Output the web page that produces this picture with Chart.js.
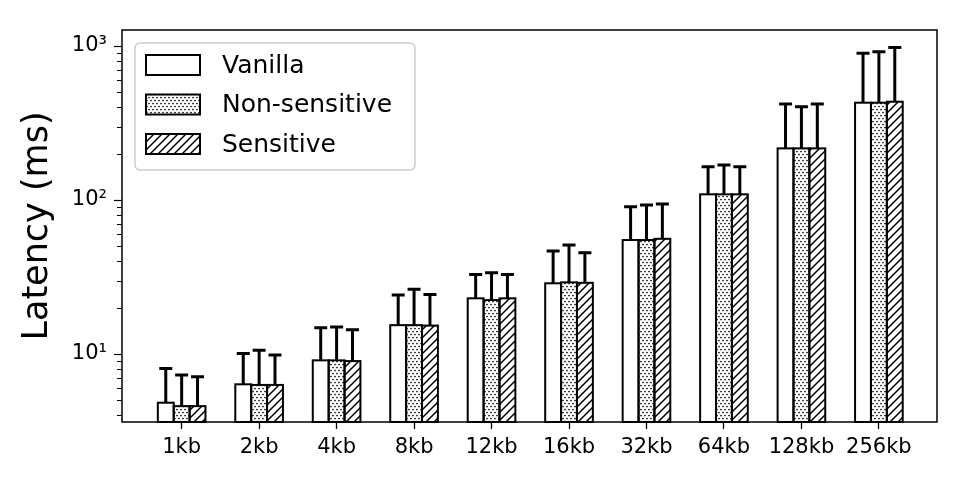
<!DOCTYPE html>
<html>
<head>
<meta charset="utf-8">
<script src="https://cdn.jsdelivr.net/npm/chart.js@4/dist/chart.umd.min.js"></script>
<style>
  body { margin: 0; background: #fff; }
  #wrap { width: 969px; height: 485px; }
</style>
</head>
<body>
<div id="wrap"><canvas id="latencyChart" width="969" height="485"></canvas></div>
<script>
// message sizes
const categories = ['1kb', '2kb', '4kb', '8kb', '12kb', '16kb', '32kb', '64kb', '128kb', '256kb'];

// mean latency (ms)
const vanilla = [4.83, 6.36, 9.1, 15.4, 23.0, 28.8, 55.0, 108.9, 216.5, 428.6];
const nonSensitive = [4.59, 6.3, 9.1, 15.4, 22.4, 29.2, 55.0, 108.9, 216.5, 428.6];
const sensitive = [4.59, 6.3, 9.0, 15.3, 23.0, 29.0, 56.0, 108.9, 216.5, 435];

// top of the error bar (ms)
const vanillaErr = [8.07, 10.1, 14.8, 24.2, 32.9, 46.7, 90.5, 164.5, 420, 897];
const nonSensitiveErr = [7.31, 10.6, 15.0, 26.3, 33.7, 51.1, 92.8, 168.6, 404, 919];
const sensitiveErr = [7.13, 9.85, 14.4, 24.4, 32.9, 45.5, 94.2, 164.5, 420, 979];

const majorTicks = [10, 100, 1000];
const minorTicks = [4, 5, 6, 7, 8, 9, 20, 30, 40, 50, 60, 70, 80, 90, 200, 300, 400, 500, 600, 700, 800, 900];
const superscripts = { 1: '\u00B9', 2: '\u00B2', 3: '\u00B3' };

function dotPattern() {
    const c = document.createElement('canvas');
    c.width = 4; c.height = 6;
    const g = c.getContext('2d');
    g.fillStyle = '#fff';
    g.fillRect(0, 0, 4, 6);
    g.fillStyle = '#000';
    [[1, 1.5], [3, 4.5]].forEach(([x, y]) => {
        g.beginPath();
        g.arc(x, y, 0.85, 0, Math.PI * 2);
        g.fill();
    });
    return g.createPattern(c, 'repeat');
}

function hatchPattern() {
    const s = 8;
    const c = document.createElement('canvas');
    c.width = s; c.height = s;
    const g = c.getContext('2d');
    g.fillStyle = '#fff';
    g.fillRect(0, 0, s, s);
    g.strokeStyle = '#000';
    g.lineWidth = 1.5;
    g.beginPath();
    g.moveTo(0, s); g.lineTo(s, 0);
    g.moveTo(-s / 2, s / 2); g.lineTo(s / 2, -s / 2);
    g.moveTo(s / 2, s * 1.5); g.lineTo(s * 1.5, s / 2);
    g.stroke();
    return g.createPattern(c, 'repeat');
}

const toPoints = values => values.map((v, i) => ({ x: i, y: v }));

// bar outlines centred on the edges (like matplotlib), then upward error bars
const barEdgesAndErrors = {
    id: 'barEdgesAndErrors',
    afterDatasetsDraw(chart) {
        const { ctx, chartArea: a } = chart;
        const yScale = chart.scales.y;
        ctx.save();
        ctx.strokeStyle = '#000';
        ctx.lineWidth = 2;
        chart.data.datasets.forEach((ds, di) => {
            chart.getDatasetMeta(di).data.forEach(bar => {
                const base = Math.min(bar.base, a.bottom);
                ctx.strokeRect(bar.x - bar.width / 2, bar.y, bar.width, base - bar.y);
            });
        });
        ctx.lineWidth = 3;
        chart.data.datasets.forEach((ds, di) => {
            chart.getDatasetMeta(di).data.forEach((bar, i) => {
                const top = yScale.getPixelForValue(ds.errTop[i]);
                ctx.beginPath();
                ctx.moveTo(bar.x, bar.y);
                ctx.lineTo(bar.x, top);
                ctx.moveTo(bar.x - 6.5, top);
                ctx.lineTo(bar.x + 6.5, top);
                ctx.stroke();
            });
        });
        ctx.restore();
    }
};

// axes frame and minor y tick marks
const frameAndMinor = {
    id: 'frameAndMinor',
    afterDraw(chart) {
        const { ctx, chartArea: a } = chart;
        const yScale = chart.scales.y;
        ctx.save();
        ctx.fillStyle = '#000';
        minorTicks.forEach(v => {
            const y = Math.round(yScale.getPixelForValue(v));
            ctx.fillRect(a.left - 5, y, 5, 1);
        });
        ctx.strokeStyle = '#000';
        ctx.lineWidth = 1.5;
        ctx.strokeRect(a.left, a.top, a.right - a.left, a.bottom - a.top);
        ctx.restore();
    }
};

const boxLegend = {
    id: 'boxLegend',
    afterDraw(chart) {
        const { ctx, chartArea: a } = chart;
        const x0 = a.left + 13, y0 = a.top + 13, w = 280, h = 127;
        ctx.save();
        ctx.fillStyle = 'rgba(255,255,255,0.8)';
        ctx.strokeStyle = '#cccccc';
        ctx.lineWidth = 1.5;
        ctx.beginPath();
        ctx.roundRect(x0, y0, w, h, 5);
        ctx.fill();
        ctx.stroke();
        ctx.font = '25px "DejaVu Sans"';
        ctx.textBaseline = 'middle';
        chart.data.datasets.forEach((ds, i) => {
            const rowY = y0 + 22 + i * 39.5;
            ctx.fillStyle = ds.backgroundColor;
            ctx.fillRect(x0 + 11, rowY - 10, 54, 20);
            ctx.strokeStyle = '#000';
            ctx.lineWidth = 2;
            ctx.strokeRect(x0 + 11, rowY - 10, 54, 20);
            ctx.fillStyle = '#000';
            ctx.fillText(ds.label, x0 + 87, rowY + 1);
        });
        ctx.restore();
    }
};

const barStyle = { borderWidth: 0, categoryPercentage: 0.615, barPercentage: 1.0 };

new Chart(document.getElementById('latencyChart'), {
    type: 'bar',
    data: {
        datasets: [
            { label: 'Vanilla', data: toPoints(vanilla), errTop: vanillaErr,
              backgroundColor: '#fff', ...barStyle },
            { label: 'Non-sensitive', data: toPoints(nonSensitive), errTop: nonSensitiveErr,
              backgroundColor: dotPattern(), ...barStyle },
            { label: 'Sensitive', data: toPoints(sensitive), errTop: sensitiveErr,
              backgroundColor: hatchPattern(), ...barStyle }
        ]
    },
    options: {
        responsive: false,
        animation: false,
        layout: { padding: { left: 0, right: 32, top: 30, bottom: 0 } },
        plugins: { legend: { display: false }, tooltip: { enabled: false } },
        scales: {
            x: {
                type: 'linear',
                offset: false,
                min: -0.77,
                max: 9.75,
                bounds: 'data',
                afterBuildTicks: scale => { scale.ticks = categories.map((_, i) => ({ value: i })); },
                afterFit: scale => { scale.height = 63; },
                grid: { display: true, drawOnChartArea: false, offset: false, tickLength: 7,
                        tickColor: '#000', tickWidth: 1.3 },
                border: { display: false },
                ticks: {
                    color: '#000',
                    font: { family: 'DejaVu Sans', size: 21 },
                    padding: 6,
                    maxRotation: 0,
                    autoSkip: false,
                    callback: v => categories[v]
                }
            },
            y: {
                type: 'logarithmic',
                min: 3.62,
                max: 1271,
                bounds: 'data',
                afterBuildTicks: scale => { scale.ticks = majorTicks.map(v => ({ value: v, major: true })); },
                afterFit: scale => { scale.width = 122; },
                grid: { drawOnChartArea: false, tickLength: 8, tickColor: '#000', tickWidth: 1.2 },
                border: { display: false },
                ticks: {
                    color: '#000',
                    font: { family: 'DejaVu Sans', size: 21 },
                    padding: 7,
                    autoSkip: false,
                    callback: v => '10' + superscripts[Math.round(Math.log10(v))]
                },
                title: {
                    display: true,
                    text: 'Latency (ms)',
                    color: '#000',
                    font: { family: 'DejaVu Sans', size: 35, lineHeight: 1.2 },
                    padding: { top: 17, bottom: 0 }
                }
            }
        }
    },
    plugins: [barEdgesAndErrors, frameAndMinor, boxLegend]
});
</script>
</body>
</html>
